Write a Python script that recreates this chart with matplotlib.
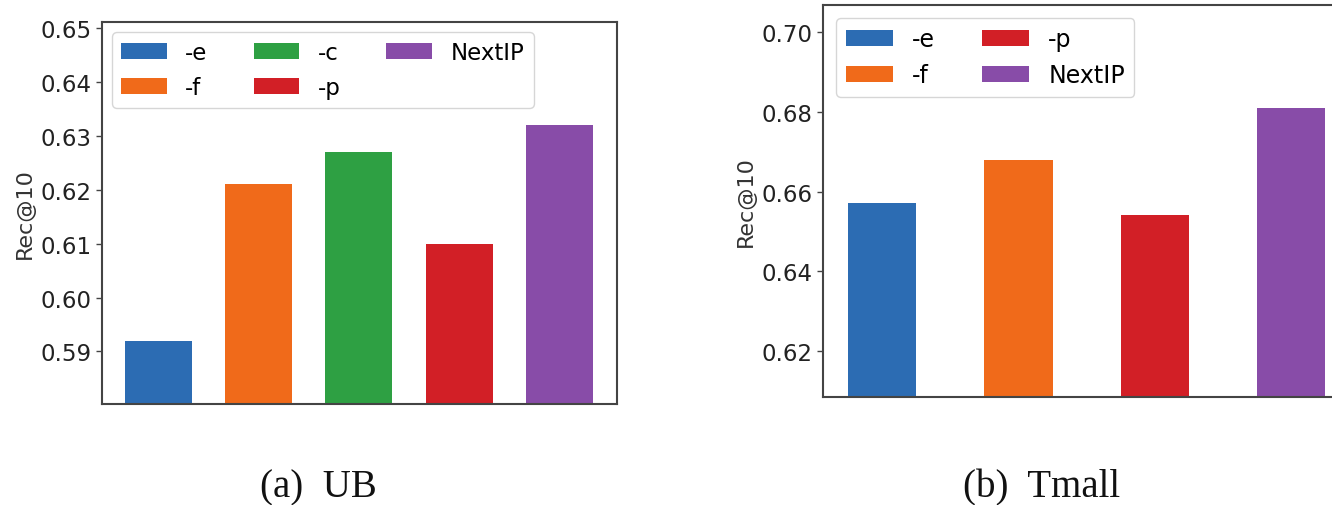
import matplotlib
matplotlib.use("Agg")
import matplotlib.pyplot as plt
from matplotlib.patches import Patch

# Ablation results (Rec@10)
ub_variants = ["-e", "-f", "-c", "-p", "NextIP"]
ub_rec10 = [0.592, 0.621, 0.627, 0.610, 0.632]
ub_yticks = [0.59, 0.60, 0.61, 0.62, 0.63, 0.64, 0.65]

tmall_variants = ["-e", "-f", "-p", "NextIP"]
tmall_rec10 = [0.657, 0.668, 0.654, 0.681]
tmall_yticks = [0.62, 0.64, 0.66, 0.68, 0.70]

captions = ["(a)  UB", "(b)  Tmall"]

variant_colors = {
    "-e": "#2c6cb3",
    "-f": "#f06a1a",
    "-c": "#2ea043",
    "-p": "#d21f26",
    "NextIP": "#884ca8",
}

plt.rcParams["font.family"] = ["DejaVu Sans"]

W, H = 1332, 506
fig = plt.figure(figsize=(W / 100, H / 100), dpi=100)


def px_axes(left, top, right, bottom):
    return fig.add_axes([left / W, 1 - bottom / H, (right - left) / W, (bottom - top) / H])


def draw_panel(ax, names, values, yticks, width, xlim, ylim, ncol,
               legend_size, legend_pad):
    xs = list(range(len(names)))
    cols = [variant_colors[n] for n in names]
    ax.bar(xs, values, width=width, color=cols)
    ax.set_xlim(*xlim)
    ax.set_ylim(*ylim)
    ax.set_xticks([])
    ax.set_yticks(yticks)
    ax.set_yticklabels([f"{t:.2f}" for t in yticks])
    ax.tick_params(axis="y", labelsize=16.5, length=4, width=1, color="#444444",
                   labelcolor="#222222")
    for sp in ax.spines.values():
        sp.set_color("#444444")
        sp.set_linewidth(1.5)
    ax.set_ylabel("Rec@10", fontsize=16, color="#333333")
    handles = [Patch(facecolor=variant_colors[n], label=n) for n in names]
    ax.legend(handles=handles, loc="upper left", ncol=ncol, fontsize=legend_size,
              frameon=True, borderaxespad=legend_pad)


ax1 = px_axes(101.7, 22.7, 616.7, 405.3)
draw_panel(ax1, ub_variants, ub_rec10, ub_yticks, 0.67,
           (-0.57, 4.575), (0.5802, 0.6512), 3, 16.5, 0.45)

ax2 = px_axes(823.3, 6.0, 1350.0, 397.7)
draw_panel(ax2, tmall_variants, tmall_rec10, tmall_yticks, 0.5,
           (-0.43, 3.43), (0.6084, 0.7069), 2, 17, 0.55)

fig.text(318 / W, 1 - 497 / H, captions[0], ha="center", va="baseline",
         fontsize=28, family="Liberation Serif", color="#111111")
fig.text(1042 / W, 1 - 497 / H, captions[1], ha="center", va="baseline",
         fontsize=28, family="Liberation Serif", color="#111111")

fig.savefig("out.png", dpi=100)
